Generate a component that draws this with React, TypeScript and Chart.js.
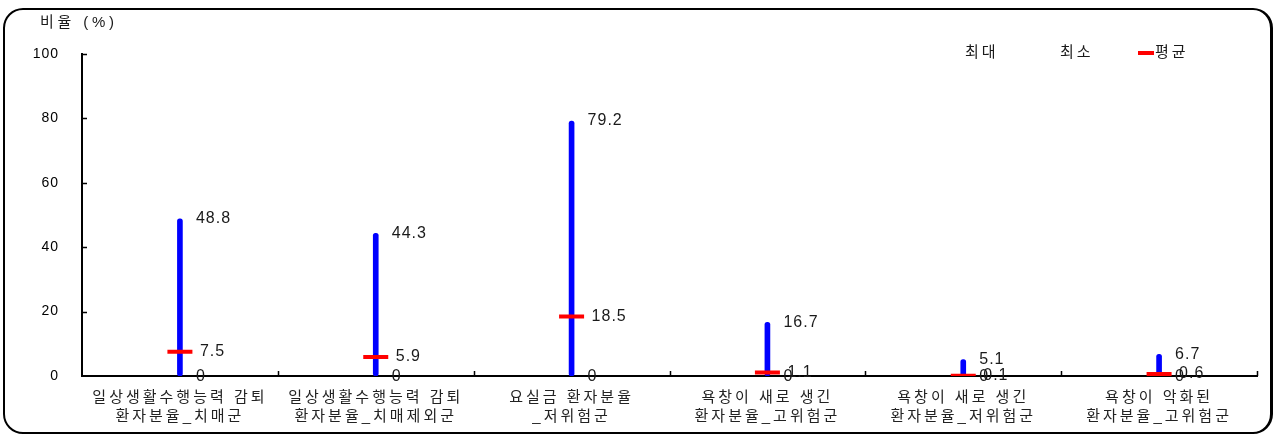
import { useEffect, useRef } from 'react';
import { Chart, registerables } from 'chart.js';

Chart.register(...registerables);

const categories: string[][] = [
  ['일상생활수행능력 감퇴', '환자분율_치매군'],
  ['일상생활수행능력 감퇴', '환자분율_치매제외군'],
  ['요실금 환자분율', '_저위험군'],
  ['욕창이 새로 생긴', '환자분율_고위험군'],
  ['욕창이 새로 생긴', '환자분율_저위험군'],
  ['욕창이 악화된', '환자분율_고위험군'],
];
const maxValues = [48.8, 44.3, 79.2, 16.7, 5.1, 6.7];
const minValues = [0, 0, 0, 0, 0, 0];
const meanValues = [7.5, 5.9, 18.5, 1.1, 0.1, 0.6];
const yTickValues = [0, 20, 40, 60, 80, 100];
const axisTitle = '비율 (%)';
const legendLabels = ['최대', '최소', '평균'];

const FONT = '"Liberation Sans", "Noto Sans CJK KR", sans-serif';
const SPACING = '3px';

const spacingPlugin = {
  id: 'spacing',
  beforeUpdate(chart: any) {
    chart.ctx.letterSpacing = SPACING;
  },
  beforeDraw(chart: any) {
    chart.ctx.letterSpacing = SPACING;
    const ys = chart.scales.y;
    if (ys && !ys.__patched) {
      const orig = ys.drawLabels.bind(ys);
      ys.drawLabels = (area: any) => {
        const prev = chart.ctx.letterSpacing;
        chart.ctx.letterSpacing = '1px';
        orig(area);
        chart.ctx.letterSpacing = prev;
      };
      ys.__patched = true;
    }
  },
};

const decorPlugin = {
  id: 'decor',
  afterDraw(chart: any) {
    const ctx = chart.ctx as CanvasRenderingContext2D;
    const x = chart.scales.x;
    const y = chart.scales.y;
    const area = chart.chartArea;
    ctx.save();
    // inward ticks
    ctx.strokeStyle = '#000';
    ctx.lineWidth = 1.5;
    ctx.beginPath();
    yTickValues.forEach((v) => {
      if (v === 0) return;
      const py = Math.round(y.getPixelForValue(v)) + 0.5;
      ctx.moveTo(area.left, py);
      ctx.lineTo(area.left + 5, py);
    });
    for (let i = 1; i <= categories.length; i++) {
      const px = Math.round(x.getPixelForValue(i - 0.5)) + 0.5;
      ctx.moveTo(px, area.bottom);
      ctx.lineTo(px, area.bottom - 5);
    }
    ctx.stroke();

    // data labels
    (ctx as any).letterSpacing = '1px';
    ctx.fillStyle = '#1a1a1a';
    ctx.font = `16px ${FONT}`;
    ctx.textBaseline = 'middle';
    ctx.textAlign = 'left';
    categories.forEach((_, i) => {
      const px = x.getPixelForValue(i);
      ctx.fillText(String(maxValues[i]), px + 16, y.getPixelForValue(maxValues[i]));
      ctx.fillText(String(minValues[i]), px + 16, y.getPixelForValue(minValues[i]) + 1);
      ctx.fillText(String(meanValues[i]), px + 20, y.getPixelForValue(meanValues[i]));
    });

    // axis title
    (ctx as any).letterSpacing = '3.8px';
    ctx.font = `15px ${FONT}`;
    ctx.fillText(axisTitle, 40, 23);

    // legend
    (ctx as any).letterSpacing = '3px';
    ctx.fillText(legendLabels[0], 965, 53);
    ctx.fillText(legendLabels[1], 1060, 53);
    ctx.strokeStyle = '#ff0000';
    ctx.lineWidth = 4;
    ctx.beginPath();
    ctx.moveTo(1138, 53);
    ctx.lineTo(1154, 53);
    ctx.stroke();
    ctx.fillText(legendLabels[2], 1155, 53);
    ctx.restore();
  },
};

export default function App() {
  const canvasRef = useRef<HTMLCanvasElement | null>(null);

  useEffect(() => {
    if (!canvasRef.current) return;
    const chart = new Chart(canvasRef.current, {
      type: 'bar',
      data: {
        labels: categories,
        datasets: [
          {
            type: 'bar',
            label: legendLabels[0],
            data: maxValues.map((v, i) => [minValues[i], v]) as any,
            backgroundColor: '#0000ff',
            barThickness: 5,
            borderSkipped: false,
            borderRadius: 2.5,
            order: 2,
          },
          {
            type: 'line',
            label: legendLabels[2],
            data: meanValues,
            showLine: false,
            pointStyle: 'line',
            pointRadius: 12.5,
            pointHoverRadius: 12.5,
            pointBorderWidth: 4,
            pointHoverBorderWidth: 4,
            pointBorderColor: '#ff0000',
            pointBackgroundColor: '#ff0000',
            borderColor: '#ff0000',
            order: 1,
          } as any,
        ],
      },
      options: {
        responsive: false,
        animation: false,
        events: [],
        layout: { padding: { left: 0, right: 21, top: 54, bottom: 0 } },
        plugins: {
          legend: { display: false },
          tooltip: { enabled: false },
          title: { display: false },
        },
        scales: {
          x: {
            grid: { display: false, drawTicks: false },
            border: { display: true, color: '#000', width: 2 },
            ticks: {
              color: '#222',
              font: { family: FONT, size: 15, lineHeight: 1.3 },
              padding: 12,
              maxRotation: 0,
              autoSkip: false,
            },
            afterFit(scale: any) {
              scale.height = 60;
            },
          },
          y: {
            min: 0,
            max: 100,
            grid: { display: false, drawTicks: false },
            border: { display: true, color: '#000', width: 2 },
            ticks: {
              stepSize: 20,
              color: '#000',
              font: { family: FONT, size: 14 },
              padding: 23,
            },
            afterFit(scale: any) {
              scale.width = 82;
            },
          },
        },
      },
      plugins: [spacingPlugin, decorPlugin],
    });
    return () => chart.destroy();
  }, []);

  return (
    <div style={{ position: 'absolute', left: 0, top: 0, width: 1278, height: 436, background: '#fff' }}>
      <div
        style={{
          position: 'absolute',
          left: 3,
          top: 8,
          width: 1270,
          height: 426,
          boxSizing: 'border-box',
          border: '2px solid #000',
          borderRightWidth: 3,
          borderRadius: 20,
        }}
      />
      <canvas
        ref={canvasRef}
        width={1278}
        height={436}
        style={{ position: 'absolute', left: 0, top: 0, width: 1278, height: 436 }}
      />
    </div>
  );
}
